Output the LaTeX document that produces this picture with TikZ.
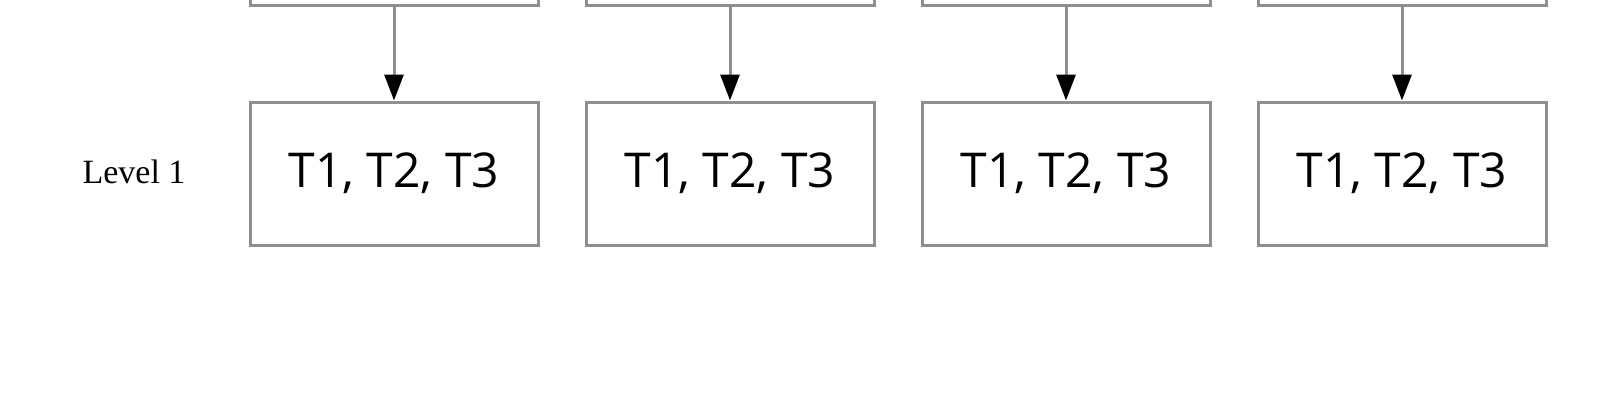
\documentclass[tikz,border=0pt]{standalone}
\usepackage{fontspec}
\newfontfamily\boxfont{Open Sans}
\newfontfamily\lvlfont{Liberation Serif}
\usetikzlibrary{arrows.meta}
\definecolor{edgegray}{HTML}{8F8F8F}
\tikzset{
  tbox/.style={draw=edgegray, line width=3pt, minimum width=288pt, minimum height=143pt, inner sep=0pt, font=\boxfont\fontsize{48}{52}\selectfont},
  conn/.style={draw=edgegray, line width=3pt, -{Triangle[width=19pt,length=26pt,color=black]}},
  lvl/.style={font=\lvlfont\fontsize{34}{38}\selectfont, inner sep=0pt}
}
\begin{document}
\begin{tikzpicture}[x=1pt,y=1pt]
\useasboundingbox (0,0) rectangle (1600,-400);
\clip (0,0) rectangle (1600,-400);
\fill[white] (0,0) rectangle (1600,-400);
\node[lvl] (lvl) at (134,-172) {Level 1};
\foreach \i/\cx in {1/394,2/730,3/1066,4/1402} {
  \node[tbox] (up\i) at (\cx,66.5) {};
  \node[tbox] (b\i) at (\cx,-173.5) {T1, T2, T3};
  \draw[conn] (up\i.south) -- (b\i.north);
}
\end{tikzpicture}
\end{document}
